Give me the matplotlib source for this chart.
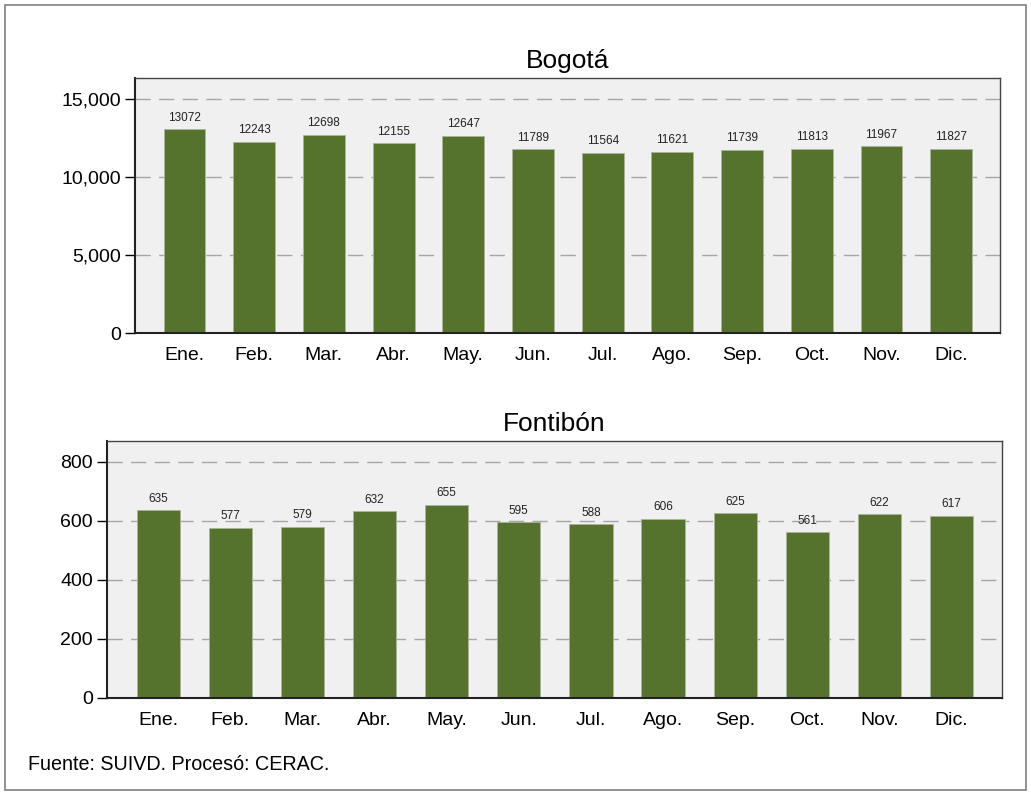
import matplotlib
matplotlib.use("Agg")
import matplotlib.pyplot as plt
from matplotlib.ticker import FuncFormatter
from matplotlib.patches import Rectangle

plt.rcParams['font.family'] = ['Liberation Sans', 'DejaVu Sans']

months = ["Ene.", "Feb.", "Mar.", "Abr.", "May.", "Jun.",
          "Jul.", "Ago.", "Sep.", "Oct.", "Nov.", "Dic."]
bogota = [13072, 12243, 12698, 12155, 12647, 11789,
          11564, 11621, 11739, 11813, 11967, 11827]
fontibon = [635, 577, 579, 632, 655, 595,
            588, 606, 625, 561, 622, 617]

BAR = "#56732E"
FACE = "#F0F0F0"
GRID = "#A6A6A6"

W, H = 1031, 796
fig = plt.figure(figsize=(W / 100, H / 100), dpi=100)

# outer frame
fig.patches.append(Rectangle((5 / W, 1 - 790 / H), 1021 / W, 785 / H,
                             transform=fig.transFigure, fill=False,
                             edgecolor="#808080", linewidth=1.2))


def px_axes(left, top, right, bottom):
    return fig.add_axes([left / W, 1 - bottom / H, (right - left) / W, (bottom - top) / H])


def draw(ax, values, title, ymax, yticks, fmt):
    x = range(len(values))
    ax.set_facecolor(FACE)
    ax.set_axisbelow(True)
    ax.yaxis.grid(True, color=GRID, linestyle=(0, (11, 6)), linewidth=1.0)
    bars = ax.bar(x, values, width=0.6, color=BAR, edgecolor="#A9B59A", linewidth=0.6)
    for b, v in zip(bars, values):
        ax.annotate(str(v), (b.get_x() + b.get_width() / 2, v),
                    xytext=(0, 4), textcoords="offset points",
                    ha="center", va="bottom", fontsize=8.5, color="#222222")
    ax.set_xlim(-0.71, len(values) - 1 + 0.7)
    ax.set_ylim(0, ymax)
    ax.set_yticks(yticks)
    ax.yaxis.set_major_formatter(FuncFormatter(fmt))
    ax.set_xticks(list(x))
    ax.set_xticklabels(months)
    ax.tick_params(axis="x", length=0, pad=10, labelsize=14)
    ax.tick_params(axis="y", length=7, width=1, labelsize=14, pad=3)
    for side in ("left", "bottom"):
        ax.spines[side].set_linewidth(1.5)
        ax.spines[side].set_color("#222222")
    for side in ("top", "right"):
        ax.spines[side].set_linewidth(1.0)
        ax.spines[side].set_color("#444444")
    ax.set_title(title, fontsize=19, pad=7)


ax1 = px_axes(135, 78, 1000, 333)
draw(ax1, bogota, "Bogotá", 16350, [0, 5000, 10000, 15000],
     lambda v, p: f"{int(v):,}")

ax2 = px_axes(107, 441, 1002, 698)
draw(ax2, fontibon, "Fontibón", 870, [0, 200, 400, 600, 800],
     lambda v, p: f"{int(v)}")

fig.text(28 / W, 1 - 765 / H, "Fuente: SUIVD. Procesó: CERAC.",
         fontsize=14.2, ha="left", va="center")

fig.savefig("out.png", dpi=100)
